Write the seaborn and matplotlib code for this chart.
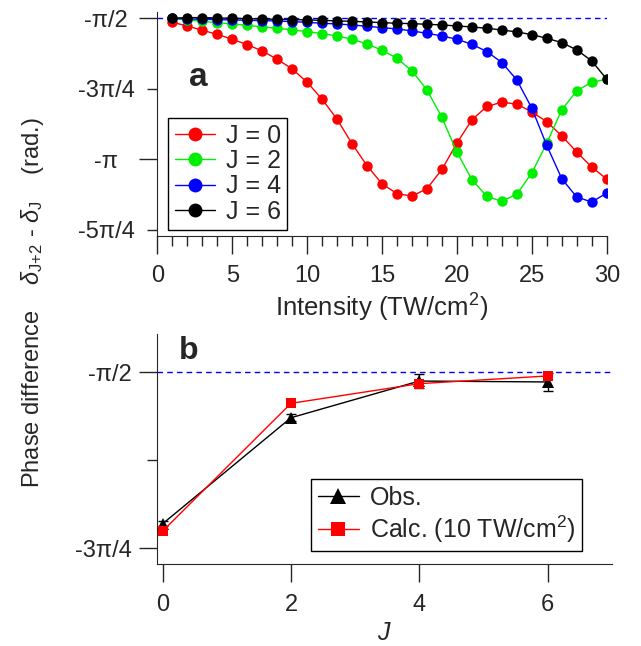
import numpy as np
import pandas as pd
import matplotlib
matplotlib.use("Agg")
import matplotlib.pyplot as plt
from matplotlib.lines import Line2D
import seaborn as sns

# values in units of pi (phase / pi)
intensity = list(range(1, 31))
j0 = [-0.5142, -0.5271, -0.5425, -0.5566, -0.5743, -0.5932, -0.6156, -0.6450, -0.6792, -0.7264,
      -0.7866, -0.8573, -0.9446, -1.0224, -1.0861, -1.1215, -1.1297, -1.1038, -1.0354, -0.9422,
      -0.8597, -0.8125, -0.7972, -0.8042, -0.8314, -0.8667, -0.9163, -0.9740, -1.0271, -1.0696]
j2 = [-0.5000, -0.5059, -0.5106, -0.5153, -0.5200, -0.5248, -0.5307, -0.5354, -0.5413, -0.5472,
      -0.5542, -0.5625, -0.5743, -0.5908, -0.6132, -0.6415, -0.6863, -0.7535, -0.8514, -0.9741,
      -1.0719, -1.1309, -1.1486, -1.1226, -1.0483, -0.9422, -0.8243, -0.7571, -0.7264, -0.7158]
j4 = [-0.5000, -0.5024, -0.5035, -0.5047, -0.5059, -0.5071, -0.5083, -0.5094, -0.5118, -0.5142,
      -0.5177, -0.5200, -0.5236, -0.5283, -0.5330, -0.5377, -0.5448, -0.5531, -0.5625, -0.5743,
      -0.5920, -0.6179, -0.6568, -0.7182, -0.8184, -0.9505, -1.0684, -1.1333, -1.1509, -1.1191]
j6 = [-0.5000, -0.4976, -0.4976, -0.4988, -0.5000, -0.5012, -0.5024, -0.5035, -0.5047, -0.5059,
      -0.5071, -0.5094, -0.5106, -0.5130, -0.5153, -0.5177, -0.5189, -0.5212, -0.5236, -0.5271,
      -0.5307, -0.5354, -0.5413, -0.5483, -0.5578, -0.5708, -0.5861, -0.6120, -0.6509, -0.7158]

J_vals = [0, 2, 4, 6]
obs = [-0.7150, -0.5648, -0.5128, -0.5141]
obs_err = [0.0033, 0.0052, 0.0095, 0.0123]
calc = [-0.7254, -0.5444, -0.5165, -0.5056]

colors = {"J = 0": "#ff0000", "J = 2": "#00ee00", "J = 4": "#0000ff", "J = 6": "#000000"}

sns.set_style("ticks")
plt.rcParams["font.family"] = ["Liberation Sans", "DejaVu Sans"]
plt.rcParams["mathtext.fontset"] = "custom"
plt.rcParams["mathtext.rm"] = "Liberation Sans"
plt.rcParams["mathtext.it"] = "Liberation Sans:italic"
plt.rcParams["font.size"] = 17

fig = plt.figure(figsize=(6.41, 6.46), dpi=100)
ax1 = fig.add_axes([0.2454, 0.6347, 0.7011, 0.3467])
ax2 = fig.add_axes([0.2454, 0.1265, 0.7089, 0.3565])

d = pd.DataFrame({"I": intensity * 4,
                  "phase": j0 + j2 + j4 + j6,
                  "J": ["J = 0"] * 30 + ["J = 2"] * 30 + ["J = 4"] * 30 + ["J = 6"] * 30})

ax1.axhline(-0.5, color="#0000ff", lw=1, ls=(0, (4, 3)), zorder=1)
for name, col in colors.items():
    sub = d[d["J"] == name]
    sns.lineplot(x="I", y="phase", data=sub, ax=ax1, color=col, lw=1, marker="o",
                 markersize=7.5, markeredgewidth=0, label=name, legend=False, zorder=3)

handles = [Line2D([], [], color=c, lw=1, marker="o", markersize=10, markeredgewidth=0) for c in colors.values()]
leg = ax1.legend(handles, list(colors.keys()), loc="lower left", bbox_to_anchor=(0.0245, 0.0268),
                 fontsize=18, frameon=True, fancybox=False, edgecolor="black", framealpha=1,
                 handlelength=1.6, handletextpad=0.45, labelspacing=0.05, borderpad=0.25, borderaxespad=0)
leg.get_frame().set_linewidth(1)

ax1.set_xlim(0, 30)
ax1.set_ylim(-1.25 - 0.085 / 4, -0.5 + 0.089 / 4)
ax1.set_xticks([0, 5, 10, 15, 20, 25, 30])
ax1.set_xticks(range(0, 31), minor=True)
ax1.set_yticks([-0.5, -1.0])
ax1.set_yticklabels(["-π/2", "-π"], ha="center")
ax1.set_yticks([-0.75, -1.25], minor=True)
ax1.set_yticklabels(["-3π/4", "-5π/4"], minor=True, ha="center")
ax1.tick_params(axis="both", which="major", length=13.2, width=1, direction="out", labelsize=17, pad=8)
ax1.tick_params(axis="both", which="minor", length=7.2, width=1, direction="out", labelsize=17, pad=8)
ax1.tick_params(axis="y", which="major", pad=23.5)
ax1.tick_params(axis="y", which="minor", pad=29.5)
ax1.set_xlabel("Intensity (TW/cm$^2$)", fontsize=18.5, labelpad=3)
ax1.set_ylabel("")
ax1.text(0.0906, 0.708, "a", transform=ax1.transAxes, fontsize=24, fontweight="bold", ha="center", va="center")
sns.despine(ax=ax1)

# panel b
ax2.axhline(-0.5, color="#0000ff", lw=1, ls=(0, (4, 3)), zorder=1)
ax2.errorbar(J_vals, obs, yerr=obs_err, fmt="none", ecolor="black", elinewidth=1, capsize=3.5, zorder=2)
sns.lineplot(x=J_vals, y=obs, ax=ax2, color="black", lw=1, marker="^", markersize=8,
             markeredgewidth=0, zorder=3)
sns.lineplot(x=J_vals, y=calc, ax=ax2, color="#ff0000", lw=1, marker="s", markersize=7,
             markeredgewidth=0, zorder=3)
h2 = [Line2D([], [], color="black", lw=1, marker="^", markersize=11, markeredgewidth=0),
      Line2D([], [], color="#ff0000", lw=1, marker="s", markersize=10, markeredgewidth=0)]
leg2 = ax2.legend(h2, ["Obs.", "Calc. (10 TW/cm$^2$)"], loc="lower right", bbox_to_anchor=(0.9346, 0.0578),
                  fontsize=18, frameon=True, fancybox=False, edgecolor="black", framealpha=1,
                  handlelength=1.65, handletextpad=0.45, labelspacing=0.15, borderpad=0.25, borderaxespad=0)
leg2.get_frame().set_linewidth(1)

ax2.set_xlim(-0.084, 7.0)
ax2.set_ylim(-0.7725, -0.4461)
ax2.set_xticks(J_vals)
ax2.set_yticks([-0.5, -0.75])
ax2.set_yticklabels(["-π/2", "-3π/4"])
ax2.set_yticks([-0.625], minor=True)
ax2.tick_params(axis="both", which="major", length=13.2, width=1, direction="out", labelsize=17, pad=8)
ax2.tick_params(axis="y", which="major", pad=5)
ax2.tick_params(axis="y", which="minor", length=7.2, width=1, direction="out")
ax2.set_xlabel("$\\mathit{J}$", fontsize=18, labelpad=4)
ax2.set_ylabel("")
ax2.text(0.0698, 0.926, "b", transform=ax2.transAxes, fontsize=23, fontweight="bold", ha="center", va="center")
sns.despine(ax=ax2)

fig.text(0.05, 0.531, "Phase difference    $\\delta_{\\mathrm{J{+}2}}$ - $\\delta_{\\mathrm{J}}$    (rad.)",
         rotation=90, fontsize=17, ha="center", va="center")

fig.savefig("out.png", dpi=100)
